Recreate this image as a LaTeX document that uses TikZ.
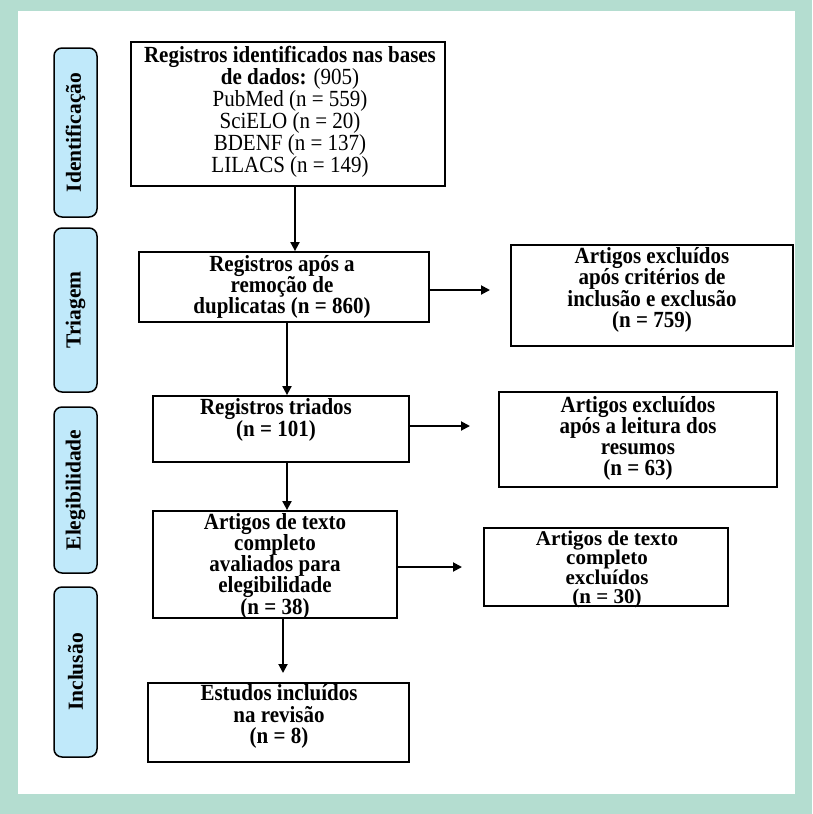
\documentclass[tikz,border=0pt]{standalone}
\usepackage{fontspec}
\setmainfont{Liberation Serif}
\usetikzlibrary{arrows.meta}
\definecolor{bgteal}{RGB}{180,221,208}
\definecolor{lblue}{RGB}{192,233,250}
\begin{document}
\begin{tikzpicture}[x=1pt,y=-1pt,
  flowbox/.style={draw=black, line width=1.8pt, inner sep=0pt},
  txt/.style={align=center, inner sep=0pt, yscale=1.1, transform shape, font=\fontsize{21}{19.3}\selectfont\bfseries},
  txtn/.style={align=center, inner sep=0pt, font=\fontsize{21}{19.3}\selectfont\bfseries},
  txtr/.style={align=center, inner sep=0pt, yscale=1.1, transform shape, font=\fontsize{21}{18.8}\selectfont},
  side/.style={draw=black, fill=lblue, rounded corners=8pt, line width=1.5pt, inner sep=0pt,
    rotate=90, minimum height=43pt, font=\fontsize{21.5}{21}\selectfont\bfseries},
  arr/.style={line width=1.9pt, -{Triangle[length=9pt,width=9pt]}}]
\useasboundingbox (0,0) rectangle (812,814);
\fill[bgteal] (0,0) rectangle (812,814);
\fill[white] (18,11) rectangle (795,794);
% side labels
\node[side, minimum width=169pt] (s1) at (75.5,132.5) {Identificação};
\node[side, minimum width=164pt] (s2) at (75.5,310) {Triagem};
\node[side, minimum width=166pt] (s3) at (75.5,490) {Elegibilidade};
\node[side, minimum width=170pt] (s4) at (75.5,672) {Inclusão};
% boxes
\node[flowbox, minimum width=314pt, minimum height=144pt] (b1) at (288,114) {};
\node[flowbox, minimum width=290pt, minimum height=70pt] (b2) at (284,287) {};
\node[flowbox, minimum width=282pt, minimum height=101pt] (b3) at (652,295.5) {};
\node[flowbox, minimum width=256pt, minimum height=66pt] (b4) at (281,429) {};
\node[flowbox, minimum width=278pt, minimum height=95pt] (b5) at (638,439.5) {};
\node[flowbox, minimum width=244pt, minimum height=107pt] (b6) at (275,564.5) {};
\node[flowbox, minimum width=244pt, minimum height=78pt] (b7) at (606,567) {};
\node[flowbox, minimum width=261pt, minimum height=79pt] (b8) at (278.5,722.5) {};
% texts
\node[txtr] (t1) at (290,112) {\textbf{Registros identificados nas bases}\\\textbf{de dados:} (905)\\PubMed (n = 559)\\SciELO (n = 20)\\BDENF (n = 137)\\LILACS (n = 149)};
\node[txt] (t2) at (282,287) {Registros após a\\remoção de\\duplicatas (n = 860)};
\node[txt] (t3) at (652,290) {Artigos excluídos\\após critérios de\\inclusão e exclusão\\(n = 759)};
\node[txt] (t4) at (276,420) {Registros triados\\(n = 101)};
\node[txt] (t5) at (638,438.5) {Artigos excluídos\\após a leitura dos\\resumos\\(n = 63)};
\node[txt] (t6) at (275,566) {Artigos de texto\\completo\\avaliados para\\elegibilidade\\(n = 38)};
\node[txtn] (t7) at (607,569.5) {Artigos de texto\\completo\\excluídos\\(n = 30)};
\node[txt] (t8) at (279,716.5) {Estudos incluídos\\na revisão\\(n = 8)};
% connector helpers
\coordinate (x1) at (295,0);
\coordinate (x3) at (287,0);
\coordinate (e2) at (490,290);
\coordinate (e4) at (470,426);
\coordinate (e6) at (462,567);
\coordinate (e7) at (283,673);
% connectors
\draw[arr] (b1.south -| x1) -- (b2.north -| x1);
\draw[arr] (b2.east |- e2) -- (e2);
\draw[arr] (b2.south -| x3) -- (b4.north -| x3);
\draw[arr] (b4.east |- e4) -- (e4);
\draw[arr] (b4.south -| x3) -- (b6.north -| x3);
\draw[arr] (b6.east |- e6) -- (e6);
\draw[arr] (b6.south -| e7) -- (e7);
\end{tikzpicture}
\end{document}
